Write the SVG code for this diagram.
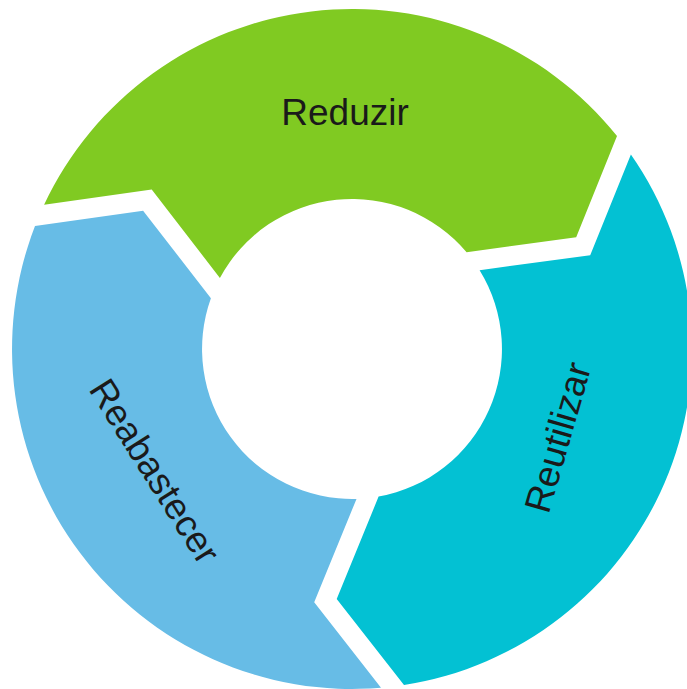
<svg xmlns="http://www.w3.org/2000/svg" width="687" height="689" viewBox="0 0 687 689">
<style>
.lbl{font-family:"Liberation Sans",Arial,sans-serif;font-size:37px;fill:#1a1a1a;text-anchor:middle}
</style>
<rect width="687" height="689" fill="#ffffff"/>
<g id="reduzir">
<path d="M44.1,204.8 A340,340 0 0 1 617.0,136.0 L576.2,237.2 L466.6,252.2 A150,150 0 0 0 219.9,277.9 L151.7,189.6 Z" fill="#80CA22"/>
<text class="lbl" x="345" y="125">Reduzir</text>
</g>
<g id="reutilizar">
<path d="M630.9,154.5 A340,340 0 0 1 404.0,685.0 L336.7,599.0 L378.6,496.6 A150,150 0 0 0 479.6,270.2 L590.2,255.2 Z" fill="#03C1D3"/>
<text class="lbl" x="570" y="441" transform="rotate(-73.9 570 441)">Reutilizar</text>
</g>
<g id="reabastecer">
<path d="M381.0,687.7 A340,340 0 0 1 35.0,226.1 L143.1,210.7 L210.9,298.2 A150,150 0 0 0 356.5,498.9 L314.2,602.2 Z" fill="#67BCE6"/>
<text class="lbl" x="144" y="478" transform="rotate(57.7 144 478)">Reabastecer</text>
</g>
<g id="connectors"></g>
</svg>
